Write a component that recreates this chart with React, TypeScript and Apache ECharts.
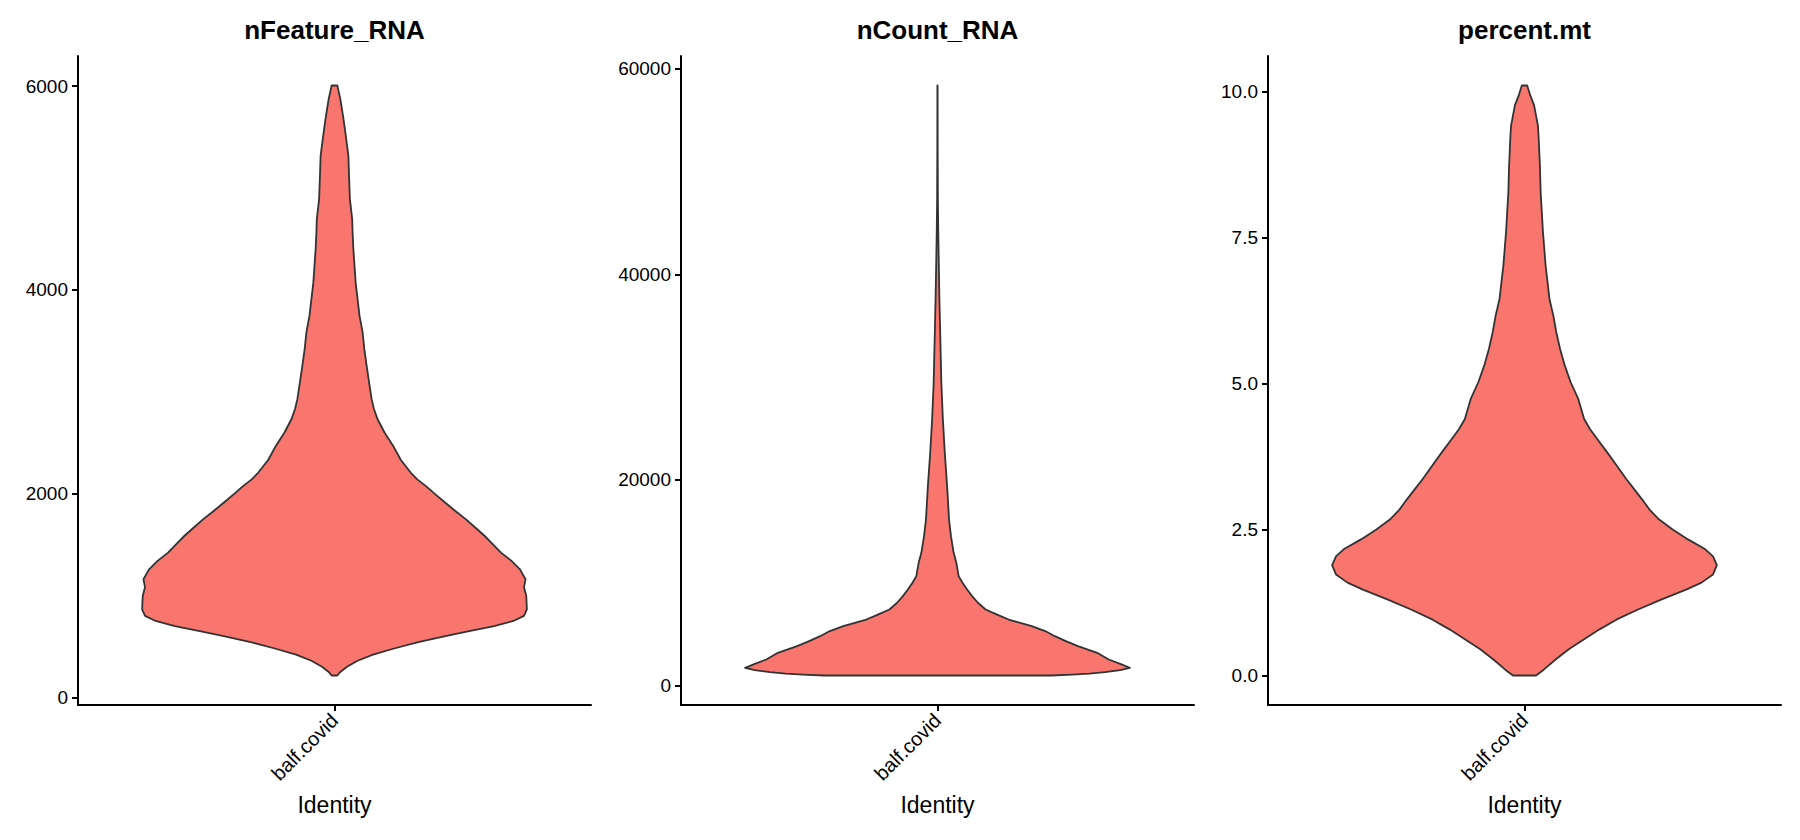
import React, { useEffect, useRef } from 'react';
import * as echarts from 'echarts';

// Identity class shown on every panel
const CATEGORIES = ['balf.covid'];
const PANEL_TITLES = ['nFeature_RNA', 'nCount_RNA', 'percent.mt'];
const X_TITLE = 'Identity';

// Violin outlines: value along the y axis and relative half-width (1 = widest point)
const FEATURE_Y = [
  215, 250, 300, 360, 420, 480, 540, 600, 650, 700, 750, 800, 864, 995, 1080, 1159, 1257, 1340,
  1421, 1500, 1584, 1670, 1750, 1830, 1915, 2000, 2076, 2140, 2207, 2330, 2468, 2600, 2730, 2830,
  2927, 3090, 3255, 3420, 3585, 3746, 3910, 4070, 4237, 4400, 4565, 4695, 4890, 5100, 5320, 5550,
  5700, 5875, 5960, 6005,
];
const FEATURE_W = [
  0.015, 0.03, 0.065, 0.12, 0.2, 0.31, 0.43, 0.57, 0.7, 0.83, 0.93, 0.985, 1.0, 0.997, 0.985, 0.993,
  0.964, 0.92, 0.865, 0.825, 0.781, 0.73, 0.682, 0.628, 0.573, 0.52, 0.474, 0.43, 0.396, 0.345,
  0.305, 0.26, 0.224, 0.205, 0.193, 0.18, 0.167, 0.155, 0.146, 0.13, 0.12, 0.11, 0.104, 0.098,
  0.094, 0.092, 0.08, 0.076, 0.072, 0.056, 0.045, 0.03, 0.02, 0.015,
];

const COUNT_Y = [
  973, 1050, 1150, 1300, 1500, 1720, 2100, 2530, 3180, 3825, 4300, 4800, 5300, 5770, 6420, 6900,
  7400, 8050, 8700, 9340, 10000, 10640, 11940, 12910, 14530, 16150, 19400, 22640, 25890, 29460,
  34350, 37560, 40800, 44080, 47300, 52000, 58390,
];
const COUNT_W = [
  0.59, 0.7, 0.79, 0.87, 0.95, 1.0, 0.95, 0.89, 0.83, 0.73, 0.67, 0.61, 0.56, 0.49, 0.37, 0.31,
  0.25, 0.21, 0.18, 0.154, 0.13, 0.11, 0.098, 0.084, 0.07, 0.06, 0.05, 0.038, 0.028, 0.02, 0.014,
  0.01, 0.007, 0.004, 0.002, 0.001, 0.0005,
];

const MT_Y = [
  0.0, 0.1, 0.27, 0.45, 0.62, 0.79, 0.96, 1.13, 1.3, 1.47, 1.59, 1.73, 1.89, 2.04, 2.16, 2.33, 2.5,
  2.67, 2.84, 3.02, 3.19, 3.36, 3.59, 3.82, 4.04, 4.22, 4.39, 4.73, 5.02, 5.3, 5.59, 5.88, 6.16,
  6.44, 6.73, 7.01, 7.59, 7.93, 8.27, 8.73, 9.18, 9.41, 9.76, 9.93, 10.1,
];
const MT_W = [
  0.06, 0.1, 0.16, 0.23, 0.31, 0.39, 0.48, 0.59, 0.71, 0.84, 0.92, 0.98, 1.0, 0.98, 0.94, 0.85,
  0.77, 0.7, 0.65, 0.61, 0.57, 0.53, 0.48, 0.43, 0.38, 0.34, 0.31, 0.28, 0.24, 0.21, 0.185, 0.165,
  0.15, 0.13, 0.12, 0.11, 0.096, 0.09, 0.084, 0.08, 0.074, 0.07, 0.05, 0.03, 0.014,
];

// Tick positions on each y axis
const FEATURE_TICKS = [0, 2000, 4000, 6000];
const COUNT_TICKS = [0, 20000, 40000, 60000];
const MT_TICKS = [0, 2.5, 5, 7.5, 10];

const FILL = '#F8766D';
const OUTLINE = '#333333';
const FONT = '"Liberation Sans", Arial, Helvetica, sans-serif';

// Panel geometry (px)
const GRID_LEFTS = [78, 681, 1268];
const GRID_TOP = 56;
const GRID_W = 513;
const GRID_H = 649;
// Violin max width = 0.9 of a category on a 1.2-wide discrete range
const HALF_WIDTH_FRACTION = 0.375;

const panels = [
  { title: PANEL_TITLES[0], ys: FEATURE_Y, ws: FEATURE_W, ticks: FEATURE_TICKS, digits: 0 },
  { title: PANEL_TITLES[1], ys: COUNT_Y, ws: COUNT_W, ticks: COUNT_TICKS, digits: 0 },
  { title: PANEL_TITLES[2], ys: MT_Y, ws: MT_W, ticks: MT_TICKS, digits: 1 },
];

// Continuous scale padded by 5% of the data range on both ends
function expandRange(values: number[]): [number, number] {
  const lo = Math.min(...values);
  const hi = Math.max(...values);
  const pad = (hi - lo) * 0.05;
  return [lo - pad, hi + pad];
}

function violinRenderer(ys: number[], ws: number[]) {
  return (_params: any, api: any) => {
    const band = api.size([1, 0], [0, 0])[0];
    const half = band * HALF_WIDTH_FRACTION;
    const right: number[][] = [];
    const left: number[][] = [];
    ys.forEach((y, k) => {
      const [cx, cy] = api.coord([0, y]);
      right.push([cx + ws[k] * half, cy]);
      left.push([cx - ws[k] * half, cy]);
    });
    return {
      type: 'polygon',
      shape: { points: right.concat(left.reverse()) },
      style: { fill: FILL, stroke: OUTLINE, lineWidth: 1.8, lineJoin: 'round' },
    };
  };
}

export default function App() {
  const ref = useRef<HTMLDivElement>(null);

  useEffect(() => {
    if (!ref.current) return;
    const chart = echarts.init(ref.current, null, { renderer: 'svg' });

    const lineStyle = { color: '#000', width: 2 };
    const axisTick = { show: true, length: 6, lineStyle };

    const option: any = {
      animation: false,
      backgroundColor: '#ffffff',
      textStyle: { fontFamily: FONT },
      title: panels.map((p, i) => ({
        text: p.title,
        left: GRID_LEFTS[i] + GRID_W / 2,
        top: 17,
        textAlign: 'center',
        padding: 0,
        textStyle: { fontSize: 26, fontWeight: 'bold', color: '#000', fontFamily: FONT },
      })),
      grid: panels.map((_, i) => ({
        left: GRID_LEFTS[i],
        top: GRID_TOP,
        width: GRID_W,
        height: GRID_H,
        containLabel: false,
        outerBoundsMode: 'none',
      })),
      xAxis: panels.map((_, i) => ({
        type: 'category',
        gridIndex: i,
        data: CATEGORIES,
        boundaryGap: true,
        axisLine: { show: true, onZero: false, lineStyle },
        axisTick: { ...axisTick, alignWithLabel: true },
        axisLabel: {
          rotate: 45,
          fontSize: 20,
          color: '#000',
          margin: 12,
          fontFamily: FONT,
        },
        splitLine: { show: false },
        name: X_TITLE,
        nameLocation: 'middle',
        nameGap: 88,
        nameTextStyle: { fontSize: 23, color: '#000', fontFamily: FONT },
      })),
      yAxis: panels.map((p, i) => {
        const [min, max] = expandRange(p.ys);
        return {
          type: 'value',
          gridIndex: i,
          min,
          max,
          axisLine: { show: true, onZero: false, lineStyle },
          axisTick: { ...axisTick, customValues: p.ticks },
          axisLabel: {
            customValues: p.ticks,
            formatter: (v: number) => v.toFixed(p.digits),
            fontSize: 19,
            color: '#000',
            margin: 10,
            fontFamily: FONT,
          },
          splitLine: { show: false },
        };
      }),
      series: panels.map((p, i) => ({
        type: 'custom',
        xAxisIndex: i,
        yAxisIndex: i,
        data: [[0, p.ys[0]]],
        encode: { x: 0, y: 1 },
        clip: false,
        renderItem: violinRenderer(p.ys, p.ws),
      })),
    };

    chart.setOption(option);
    return () => chart.dispose();
  }, []);

  return (
    <div
      ref={ref}
      style={{ position: 'fixed', left: 0, top: 0, width: 1800, height: 840, background: '#fff' }}
    />
  );
}
